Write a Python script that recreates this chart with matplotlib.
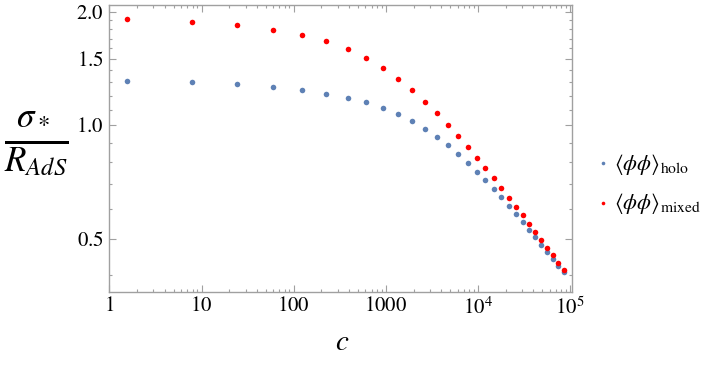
import matplotlib
matplotlib.use("Agg")
import matplotlib.pyplot as plt
from matplotlib.ticker import FixedLocator, FixedFormatter, NullFormatter
from matplotlib.lines import Line2D

plt.rcParams['mathtext.fontset'] = 'stix'
plt.rcParams['font.family'] = ['Liberation Serif', 'DejaVu Serif']

c_vals = [1.56, 7.81, 24.4, 59.2, 122, 226, 386, 614, 940, 1367,
          1925, 2664, 3571, 4700, 6080, 7745, 9770, 12030, 14850, 17950,
          21620, 25940, 30650, 36150, 42000, 48800, 56650, 65350, 74600, 85400]

sigma_holo = [1.311, 1.300, 1.285, 1.264, 1.241, 1.213, 1.184, 1.151, 1.111, 1.070,
              1.025, 0.978, 0.931, 0.885, 0.839, 0.794, 0.753, 0.715, 0.678, 0.644,
              0.612, 0.583, 0.555, 0.528, 0.504, 0.482, 0.462, 0.443, 0.424, 0.408]

sigma_mixed = [1.915, 1.877, 1.844, 1.794, 1.737, 1.671, 1.597, 1.511, 1.422, 1.329,
               1.241, 1.155, 1.076, 1.002, 0.935, 0.874, 0.819, 0.769, 0.723, 0.681,
               0.642, 0.608, 0.577, 0.548, 0.522, 0.497, 0.473, 0.452, 0.432, 0.413]

x_major = [1, 10, 100, 1000, 1e4, 1e5]
x_major_labels = ['$1$', '$10$', '$100$', '$1000$', '$10^4$', '$10^5$']
y_major = [0.5, 1.0, 1.5, 2.0]
y_major_labels = ['$0.5$', '$1.0$', '$1.5$', '$2.0$']
series_labels = [r'$\langle\phi\phi\rangle_{\rm holo}$', r'$\langle\phi\phi\rangle_{\rm mixed}$']

blue = (0.368417, 0.506779, 0.709798)
red = (1.0, 0.0, 0.0)
gray = '#a0a0a0'

fig = plt.figure(figsize=(7.06, 3.66), dpi=100)
ax = fig.add_axes([0.1544, 0.203, 0.8098 - 0.1544, 0.987 - 0.203])

ax.plot(c_vals, sigma_holo, 'o', color=blue, ms=4.0, mec='none', zorder=3)
ax.plot(c_vals, sigma_mixed, 'o', color=red, ms=4.0, mec='none', zorder=3)

ax.set_xscale('log')
ax.set_yscale('log')
ax.set_xlim(0.99, 1.04e5)
ax.set_ylim(0.3617, 2.09)

ax.xaxis.set_major_locator(FixedLocator(x_major))
ax.xaxis.set_major_formatter(FixedFormatter(x_major_labels))
xminor = [m * 10**d for d in range(0, 5) for m in range(2, 10)]
ax.xaxis.set_minor_locator(FixedLocator(xminor))
ax.xaxis.set_minor_formatter(NullFormatter())

ax.yaxis.set_major_locator(FixedLocator(y_major))
ax.yaxis.set_major_formatter(FixedFormatter(y_major_labels))
yminor = [0.4, 0.6, 0.7, 0.8, 0.9, 1.1, 1.2, 1.3, 1.4, 1.6, 1.7, 1.8, 1.9]
ax.yaxis.set_minor_locator(FixedLocator(yminor))
ax.yaxis.set_minor_formatter(NullFormatter())

for s in ax.spines.values():
    s.set_color(gray)
    s.set_linewidth(1.0)

ax.tick_params(which='both', direction='in', top=True, right=True, color=gray,
               labelsize=15, labelcolor='black', width=0.8)
ax.tick_params(which='major', length=5, pad=4)
ax.tick_params(which='minor', length=2.5)

fig.text(341.7 / 706, 1 - 343 / 366, '$c$', fontsize=21, ha='center', va='center')
fig.text(36.5 / 706, 1 - 145 / 366, r'$\frac{\sigma_*}{R_{AdS}}$', fontsize=36, ha='center', va='center')

# manual legend
leg_y = [163, 203]
for lab, col, yy in zip(series_labels, [blue, red], leg_y):
    fig.add_artist(Line2D([603 / 706], [1 - yy / 366], marker='o', ms=2.6, color=col,
                          mec='none', linestyle='none', transform=fig.transFigure))
    fig.text(614 / 706, 1 - (yy + 1) / 366, lab, fontsize=16, ha='left', va='center')

fig.savefig('out.png', dpi=100)
